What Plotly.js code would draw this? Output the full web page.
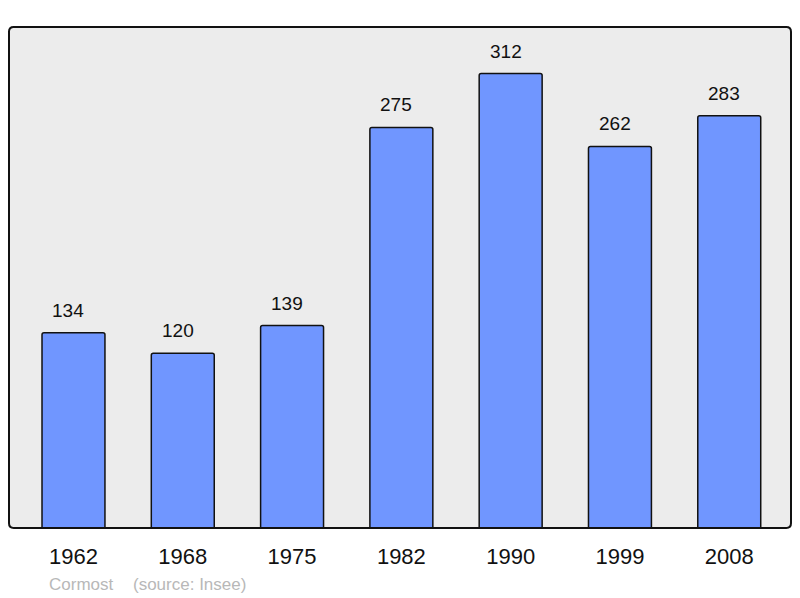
<!DOCTYPE html>
<html><head><meta charset="utf-8">
<script src="https://cdn.plot.ly/plotly-3.0.1.min.js"></script>
<style>html,body{margin:0;padding:0;background:#fff;}#chart{width:800px;height:598px;}</style>
</head><body><div id="chart"></div>
<script>
var years = ["1962","1968","1975","1982","1990","1999","2008"];
var population = [134,120,139,275,312,262,283];
var townName = "Cormost";
var sourceText = "(source: Insee)";

var W = 800, H = 598, L = 9, R = 9, T = 27, B = 70;
var pw = W - L - R, ph = H - T - B;
function px(x){ return (x - L) / pw; }
function py(y){ return (H - B - y) / ph; }

var ann = years.map(function(yr, i){
  return {x: i, y: population[i], xref:'x', yref:'y', text: String(population[i]),
    showarrow:false, yanchor:'bottom', yshift: 10, xshift: -5,
    font:{family:'Liberation Sans, Arial, sans-serif', size:19, color:'#111'}};
});
ann.push({xref:'paper', yref:'paper', x:px(47), y:py(584), xanchor:'left', yanchor:'middle',
  text: townName, showarrow:false, font:{family:'Liberation Sans, Arial, sans-serif', size:17, color:'#b8b8b8'}});
ann.push({xref:'paper', yref:'paper', x:px(131), y:py(584), xanchor:'left', yanchor:'middle',
  text: sourceText, showarrow:false, font:{family:'Liberation Sans, Arial, sans-serif', size:17, color:'#b8b8b8'}});

var r = 0.006, ry = r * pw / ph;
var border = 'M ' + r + ' 0 L ' + (1-r) + ' 0 Q 1 0 1 ' + ry + ' L 1 ' + (1-ry) + ' Q 1 1 ' + (1-r) + ' 1 L ' + r + ' 1 Q 0 1 0 ' + (1-ry) + ' L 0 ' + ry + ' Q 0 0 ' + r + ' 0 Z';

var data = [{
  type:'bar', x: years.map(function(_,i){return i;}), y: population,
  width: 0.576,
  marker:{color:'#7096ff', line:{color:'#111', width:1.5}, cornerradius: 2},
  hoverinfo:'none'
}];

var layout = {
  width: W, height: H,
  margin:{l:L, r:R, t:T, b:B, pad:0},
  paper_bgcolor:'#ffffff', plot_bgcolor:'#ececec',
  showlegend:false,
  xaxis:{range:[-0.59, 6.565], tickmode:'array', tickvals: years.map(function(_,i){return i;}), ticktext: years,
    ticks:'', showgrid:false, zeroline:false, showline:false, fixedrange:true,
    tickfont:{family:'Liberation Sans, Arial, sans-serif', size:22, color:'#111'}, ticklabelstandoff: 13},
  yaxis:{range:[0, 344], showticklabels:false, ticks:'', showgrid:false, zeroline:false, showline:false, fixedrange:true},
  annotations: ann,
  shapes:[{type:'path', xref:'paper', yref:'paper', path: border, line:{color:'#111', width:2}, layer:'above'}]
};
Plotly.newPlot('chart', data, layout, {displayModeBar:false, staticPlot:true});
</script></body></html>
